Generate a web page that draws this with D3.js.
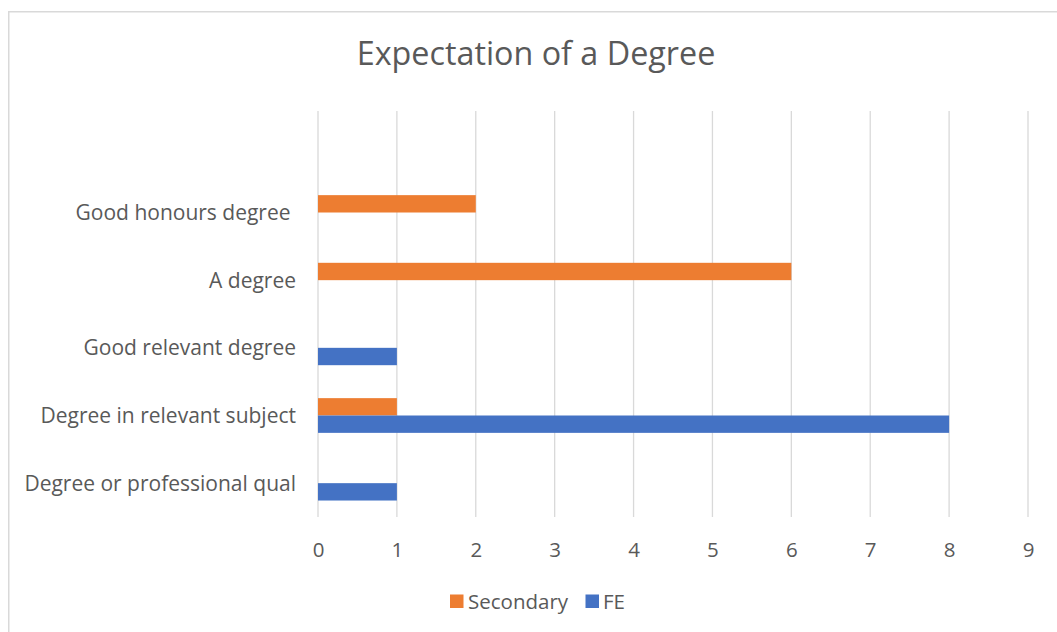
<!DOCTYPE html>
<html>
<head>
<meta charset="utf-8">
<script src="https://cdn.jsdelivr.net/npm/d3@7/dist/d3.min.js"></script>
<style>
  html, body { margin: 0; padding: 0; background: #fff; }
  svg { display: block; }
  text { font-family: "Open Sans", "Noto Sans", sans-serif; fill: #595959; }
</style>
</head>
<body>
<svg id="chart" width="1057" height="632"></svg>
<script>
// ---- data ----
const title = "Expectation of a Degree";
const categories = ["", "Good honours degree ", "A degree", "Good relevant degree", "Degree in relevant subject", "Degree or professional qual"];
const seriesNames = ["Secondary", "FE"];
const secondary = [null, 2, 6, 0, 1, 0];
const fe = [null, 0, 0, 1, 8, 1];
const xTicks = [0, 1, 2, 3, 4, 5, 6, 7, 8, 9];
const colors = ["#ED7D31", "#4472C4"];

// ---- layout ----
const svg = d3.select("#chart");
const plot = { left: 318, right: 1028, top: 111, bottom: 517 };

svg.append("rect")
  .attr("x", 8.75).attr("y", 11.75)
  .attr("width", 1200).attr("height", 800)
  .attr("fill", "#fff").attr("stroke", "#d9d9d9").attr("stroke-width", 1.5);

const x = d3.scaleLinear().domain([0, 9]).range([plot.left, plot.right]);
const y = d3.scaleBand().domain(categories).range([plot.top, plot.bottom])
  .paddingInner(0.487).paddingOuter(0.2435);
const ySub = d3.scaleBand().domain(seriesNames).range([0, y.bandwidth()]);

// gridlines
svg.append("g").selectAll("line").data(xTicks).join("line")
  .attr("x1", d => x(d)).attr("x2", d => x(d))
  .attr("y1", plot.top).attr("y2", plot.bottom)
  .attr("stroke", "#d9d9d9").attr("stroke-width", 1.3);

// x axis labels via d3 axis
const xAxis = d3.axisBottom(x).tickValues(xTicks).tickSize(0).tickPadding(0).tickFormat(d3.format("d"));
const gx = svg.append("g").attr("transform", `translate(0, ${plot.bottom})`).call(xAxis);
gx.select(".domain").remove();
gx.selectAll("text")
  .attr("y", 40).attr("dy", 0)
  .style("font-size", "20.5px").style("fill", "#595959")
  .style("font-family", '"Open Sans", sans-serif');

// y axis labels via d3 axis
const yAxis = d3.axisLeft(y).tickSize(0).tickPadding(0);
const gy = svg.append("g").attr("transform", `translate(${plot.left - 22}, 0)`).call(yAxis);
gy.select(".domain").remove();
gy.selectAll("text")
  .attr("x", 0).attr("dy", "0.36em")
  .style("font-size", "21px").style("fill", "#595959")
  .style("white-space", "pre")
  .style("font-family", '"Open Sans", sans-serif');

// bars
const rows = categories.map((c, i) => ({ cat: c, vals: [secondary[i], fe[i]] }));
const groups = svg.append("g").selectAll("g").data(rows).join("g")
  .attr("transform", d => `translate(0, ${y(d.cat)})`);
groups.selectAll("rect")
  .data(d => d.vals.map((v, j) => ({ name: seriesNames[j], v, j })).filter(e => e.v !== null && e.v > 0))
  .join("rect")
  .attr("x", x(0))
  .attr("y", e => ySub(e.name))
  .attr("width", e => x(e.v) - x(0))
  .attr("height", ySub.bandwidth())
  .attr("fill", e => colors[e.j]);

// title
svg.append("text")
  .attr("x", 536).attr("y", 65)
  .attr("text-anchor", "middle")
  .style("font-size", "32.3px")
  .text(title);

// legend
const legendItems = [
  { name: seriesNames[0], color: colors[0], sx: 450, tx: 468 },
  { name: seriesNames[1], color: colors[1], sx: 585.5, tx: 603 }
];
const lg = svg.append("g");
lg.selectAll("rect").data(legendItems).join("rect")
  .attr("x", d => d.sx).attr("y", 594.5)
  .attr("width", 13.5).attr("height", 13.5)
  .attr("fill", d => d.color);
lg.selectAll("text").data(legendItems).join("text")
  .attr("x", d => d.tx).attr("y", 608.5)
  .style("font-size", "20.5px")
  .text(d => d.name);
</script>
</body>
</html>
